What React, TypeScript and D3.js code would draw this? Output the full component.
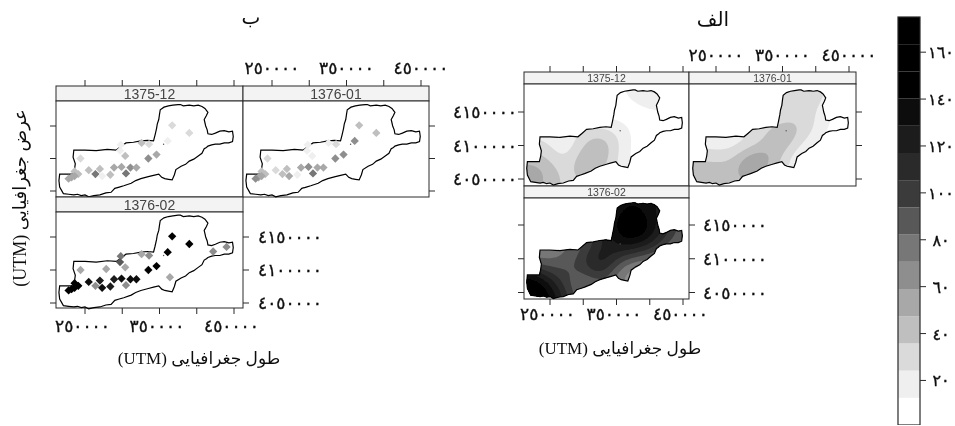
import React from "react";
import * as d3 from "d3";

// ---- data (UTM, km) ----
const boundaryX = [216,215,216,221,228,235,240,245,250,255,262,270,278,285,290,296,302,312,318,325,335,342,349,353,357,362,367,370,372,379,385,390,396,402,407,410,413,415,420,425,431,437,443,448,449,448,443,437,431,425,420,415,414,412,411,410,413,415,411,407,402,396,390,382,378,375,368,362,356,351,350,349,347,346,344,342,334,325,315,305,298,292,280,265,250,235,234,237,236,234,226];
const boundaryY = [4076,4066,4056,4046,4045,4044,4045,4043,4044,4041,4043,4044,4047,4048,4054,4056,4058,4062,4066,4069,4072,4074,4076,4071,4069,4068,4067,4075,4083,4088,4091,4096,4099,4104,4108,4115,4117,4119,4121,4122,4122,4124,4124,4126,4134,4142,4141,4143,4142,4139,4137,4138,4144,4150,4155,4160,4166,4171,4177,4180,4182,4181,4182,4181,4183,4183,4182,4181,4179,4175,4168,4160,4153,4146,4136,4127,4128,4127,4125,4124,4118,4113,4114,4112,4113,4113,4102,4092,4084,4076,4076];

const gridX = [200,225,250,275,300,325,350,375,400,425,450,475];
const gridY = [4200,4180,4160,4140,4120,4100,4080,4060,4040];
const field1: number[][] = [
  [8,8,8,8,8,8,8,16,34,26,8,8],
  [8,8,8,8,8,8,8,16,36,26,8,8],
  [8,8,8,8,8,8,8,8,10,16,6,6],
  [8,8,8,8,8,8,8,8,10,10,6,6],
  [20,20,20,20,30,34,26,8,6,6,6,6],
  [30,30,24,4,34,56,28,6,6,6,6,6],
  [42,44,38,14,62,50,22,6,6,6,6,6],
  [56,58,50,20,52,34,26,10,6,6,6,6],
  [52,50,44,28,34,30,24,10,6,6,6,6],
];
const field2: number[][] = [
  [24,24,24,24,24,24,24,26,30,20,8,6],
  [24,24,24,24,24,24,24,28,32,22,8,6],
  [24,24,24,24,24,24,26,30,28,16,4,4],
  [24,24,24,24,24,28,32,36,24,8,4,4],
  [20,20,20,18,24,36,46,44,20,8,4,4],
  [18,18,18,14,22,40,56,22,6,6,4,4],
  [32,34,34,30,78,60,30,4,8,6,4,4],
  [48,48,48,42,58,44,30,14,8,6,4,4],
  [46,46,46,42,46,40,28,12,8,6,4,4],
];
const field3: number[][] = [
  [120,120,120,120,120,125,135,140,135,125,90,70],
  [100,100,100,100,110,125,135,140,135,120,85,70],
  [90,90,90,90,100,125,140,155,140,115,85,65],
  [85,85,85,85,95,115,145,170,145,110,85,70],
  [75,75,70,75,85,110,130,135,115,90,75,65],
  [80,72,72,90,100,150,105,85,80,75,65,60],
  [125,130,100,95,90,125,70,55,55,60,60,60],
  [165,175,130,100,55,90,80,60,55,60,60,60],
  [150,165,150,110,85,80,80,60,55,60,60,60],
];

const stationX = [367,390,361,326,336,298,297,304,346,335,244,278.5,236,241,236,232,228,255,270,264,273,284,289,299,305,311,319,364,422,440];
const stationY = [4151,4139.4,4127,4124,4122,4121,4112,4104,4106,4100,4100,4101.5,4080,4076,4073,4071,4069,4082,4084,4076,4073,4075,4086,4087,4077,4086,4086,4089,4128,4135];
const station1 = [30,28,18,41,30,18,18,41,53,70,30,5,41,41,53,53,53,41,41,76,18,41,53,53,82,65,53,5,5,5];
const station2 = [41,41,65,18,30,18,18,18,65,65,30,5,41,41,53,53,65,30,41,41,53,18,53,65,76,53,53,5,5,5];
const station3 = [160,160,160,53,70,76,90,53,146,146,53,53,160,160,160,160,160,134,122,65,134,122,122,134,60,134,134,53,70,60];
const gaugeX = [355.5];
const gaugeY = [4122];

const panelNames = ["1375-12", "1376-01", "1376-02"];
const xTicks = [250, 300, 350, 400, 450];
const xTickLabels = ["٢٥٠٠٠٠", "", "٣٥٠٠٠٠", "", "٤٥٠٠٠٠"];
const yTicks = [4150, 4100, 4050];
const yTickLabels = ["٤١٥٠٠٠٠", "٤١٠٠٠٠٠", "٤٠٥٠٠٠٠"];

const levelBreaks = [1,12.6,24.2,35.8,47.4,59,70.6,82.2,93.8,105.4,117,128.6,140.2,151.8,163.4,175];
const levelGreys = ["#ffffff","#efefef","#dadada","#bfbfbf","#a8a8a8","#8e8e8e","#777777","#595959","#3a3a3a","#2a2a2a","#1c1c1c","#101010","#060606","#000000","#000000"];
const keyTicks = [20,40,60,80,100,120,140,160];
const keyLabels = ["٢٠","٤٠","٦٠","٨٠","١٠٠","١٢٠","١٤٠","١٦٠"];

const titleMaps = "الف";
const titlePoints = "ب";
const xTitle = "طول جغرافیایی (UTM)";
const yTitle = "عرض جغرافیایی (UTM)";

// ---- helpers ----
const grey = d3.scaleThreshold<number, string>().domain(levelBreaks.slice(1, -1)).range(levelGreys);
const INK = "#2a2a2a";
const SERIF = "'Liberation Serif','DejaVu Sans',serif";
const DIGITS = "'DejaVu Sans',sans-serif";
const digitStyle = { fontFamily: DIGITS, fill: "#111", stroke: "#111", strokeWidth: 0.35 };

function upsample(field: number[][], k: number) {
  const rows = field.length, cols = field[0].length;
  const w = (cols - 1) * k + 1, h = (rows - 1) * k + 1;
  const out = new Float64Array(w * h);
  for (let j = 0; j < h; j++) {
    const fy = j / k, j0 = Math.min(Math.floor(fy), rows - 2), ty = fy - j0;
    for (let i = 0; i < w; i++) {
      const fx = i / k, i0 = Math.min(Math.floor(fx), cols - 2), tx = fx - i0;
      out[j * w + i] =
        (1 - ty) * ((1 - tx) * field[j0][i0] + tx * field[j0][i0 + 1]) +
        ty * ((1 - tx) * field[j0 + 1][i0] + tx * field[j0 + 1][i0 + 1]);
    }
  }
  d3.blur2({ data: out, width: w, height: h }, k * 0.55);
  return { out, w, h };
}

function shape(x: d3.ScaleLinear<number, number>, y: d3.ScaleLinear<number, number>) {
  const pts = boundaryX.map((v, i) => [x(v), y(boundaryY[i])] as [number, number]);
  return d3.line().curve(d3.curveLinearClosed)(pts) as string;
}

function Panel({ id, l, name, field, stations, labelTop, labelBottom, labelLeft, labelRight, tickTop, tickBottom, tickLeft, tickRight, stripSize, fs, topGap, bottomGap, rightGap }: any) {
  const x = d3.scaleLinear().domain([250, 450]).range([l.x0 + l.offX, l.x0 + l.offX + l.wX]);
  const y = d3.scaleLinear().domain([4150, 4050]).range([l.y150, l.y050]);
  const outline = shape(x, y);
  const K = 10;
  let bands: React.ReactNode = null;
  if (field) {
    const { out, w, h } = upsample(field, K);
    const contours = d3.contours().size([w, h]).thresholds(levelBreaks.slice(1, -1))(Array.from(out));
    const gx = d3.scaleLinear().domain([0, w - 1]).range([gridX[0], gridX[gridX.length - 1]]);
    const gy = d3.scaleLinear().domain([0, h - 1]).range([gridY[0], gridY[gridY.length - 1]]);
    const project = d3.geoTransform({
      point(this: any, px: number, py: number) {
        this.stream.point(x(gx(px - 0.5)), y(gy(py - 0.5)));
      },
    });
    const path = d3.geoPath(project);
    bands = (
      <g clipPath={`url(#${id})`}>
        {contours.map((c, i) => (
          <path key={i} d={path(c as any) as string} fill={levelGreys[i + 1]} />
        ))}
      </g>
    );
  }
  const diamond = d3.symbol().type(d3.symbolDiamond2).size(44)() as string;
  const tick = 6;
  return (
    <g>
      <clipPath id={id}><path d={outline} /></clipPath>
      <rect x={l.x0} y={l.stripTop} width={l.x1 - l.x0} height={l.stripBottom - l.stripTop} fill="#f3f3f3" stroke={INK} strokeWidth={1} />
      <text x={(l.x0 + l.x1) / 2} y={l.stripBottom - (l.stripBottom - l.stripTop) * 0.14} textAnchor="middle" fontFamily="'Liberation Sans',sans-serif" fontSize={stripSize} fill="#444">{name}</text>
      <rect x={l.x0} y={l.stripBottom} width={l.x1 - l.x0} height={l.bottom - l.stripBottom} fill="#fff" stroke={INK} strokeWidth={1} />
      {bands}
      <path d={outline} fill="none" stroke="#000" strokeWidth={1.2} />
      {gaugeX.map((g, i) => (
        <circle key={i} cx={x(g)} cy={y(gaugeY[i])} r={0.7} fill="#555" />
      ))}
      {stations && stationX.map((sx, i) => (
        stations[i] > 12.6 ? <path key={i} d={diamond} transform={`translate(${x(sx)},${y(stationY[i])})`} fill={grey(stations[i])} /> : null
      ))}
      {xTicks.map((t) => (
        <g key={t} stroke={INK} strokeWidth={1}>
          {tickTop && <line x1={x(t)} x2={x(t)} y1={l.stripTop} y2={l.stripTop - tick} />}
          {tickBottom && <line x1={x(t)} x2={x(t)} y1={l.bottom} y2={l.bottom + tick} />}
        </g>
      ))}
      {yTicks.map((t) => (
        <g key={t} stroke={INK} strokeWidth={1}>
          {tickLeft && <line x1={l.x0} x2={l.x0 - tick} y1={y(t)} y2={y(t)} />}
          {tickRight && <line x1={l.x1} x2={l.x1 + tick} y1={y(t)} y2={y(t)} />}
        </g>
      ))}
      {labelTop && xTicks.map((t, i) => (
        <text key={t} x={x(t)} y={l.stripTop - topGap} textAnchor="middle" fontSize={fs} style={digitStyle}>{xTickLabels[i]}</text>
      ))}
      {labelBottom && xTicks.map((t, i) => (
        <text key={t} x={x(t) - 2.5} y={l.bottom + bottomGap} textAnchor="middle" fontSize={fs} style={digitStyle}>{xTickLabels[i]}</text>
      ))}
      {labelLeft && yTicks.map((t, i) => (
        <text key={t} x={l.x0 - 7} y={y(t) + 6} textAnchor="end" fontSize={fs} style={digitStyle}>{yTickLabels[i]}</text>
      ))}
      {labelRight && yTicks.map((t, i) => (
        <text key={t} x={l.x1 + rightGap} y={y(t) + 6} textAnchor="start" fontSize={fs} style={digitStyle}>{yTickLabels[i]}</text>
      ))}
    </g>
  );
}

function Key() {
  const k = d3.scaleLinear().domain([1, 175]).range([425, 17]);
  return (
    <g>
      {levelGreys.map((c, i) => (
        <rect key={i} x={898} width={22} y={k(levelBreaks[i + 1])} height={k(levelBreaks[i]) - k(levelBreaks[i + 1])} fill={c} />
      ))}
      <rect x={898} y={17} width={22} height={408} fill="none" stroke={INK} strokeWidth={1.2} />
      {keyTicks.map((t, i) => (
        <g key={t}>
          <line x1={920} x2={926} y1={k(t)} y2={k(t)} stroke={INK} strokeWidth={1} />
          <text x={941} y={k(t) + 6} textAnchor="middle" fontSize={16} style={digitStyle}>{keyLabels[i]}</text>
        </g>
      ))}
    </g>
  );
}

export default function App() {
  const rA = { stripTop: 72, stripBottom: 84, bottom: 186, y150: 112, y050: 179 };
  const rB = { stripTop: 186, stripBottom: 198, bottom: 299, y150: 225, y050: 292.5 };
  const lA = { stripTop: 86, stripBottom: 101, bottom: 197, y150: 126, y050: 191 };
  const lB = { stripTop: 197, stripBottom: 212, bottom: 308, y150: 237, y050: 303 };
  const rc1 = { x0: 524, x1: 689, offX: 26, wX: 133 };
  const rc2 = { x0: 689, x1: 856, offX: 27, wX: 133 };
  const lc1 = { x0: 56, x1: 243, offX: 29, wX: 149 };
  const lc2 = { x0: 243, x1: 429, offX: 29, wX: 149 };
  const common = { fs: 17, topGap: 11, rightGap: 14 };
  return (
    <svg width={955} height={426} style={{ position: "absolute", left: 0, top: 0, background: "#fff" }}>
      <defs>
        <filter id="soft" x="0" y="0" width="100%" height="100%">
          <feGaussianBlur stdDeviation="0.35" />
        </filter>
      </defs>
      <rect width={955} height={426} fill="#fff" />
      <g filter="url(#soft)">
        <Panel id="m1" l={{ ...rc1, ...rA }} name={panelNames[0]} field={field1} stripSize={10.5} {...common} tickTop tickLeft labelLeft />
        <Panel id="m2" l={{ ...rc2, ...rA }} name={panelNames[1]} field={field2} stripSize={10.5} {...common} tickTop tickRight labelTop />
        <Panel id="m3" l={{ ...rc1, ...rB }} name={panelNames[2]} field={field3} stripSize={10.5} {...common} bottomGap={21} tickLeft tickRight tickBottom labelRight labelBottom />
        <Panel id="p1" l={{ ...lc1, ...lA }} name={panelNames[0]} stations={station1} stripSize={14} {...common} tickTop tickLeft />
        <Panel id="p2" l={{ ...lc2, ...lA }} name={panelNames[1]} stations={station2} stripSize={14} {...common} topGap={12} tickTop tickRight labelTop />
        <Panel id="p3" l={{ ...lc1, ...lB }} name={panelNames[2]} stations={station3} stripSize={14} {...common} rightGap={15} bottomGap={24} tickLeft tickRight tickBottom labelRight labelBottom />
        <Key />
        <text x={713} y={26} textAnchor="middle" fontFamily={SERIF} fontSize={20} fill="#111">{titleMaps}</text>
        <text x={251} y={24} textAnchor="middle" fontFamily={SERIF} fontSize={20} fill="#111">{titlePoints}</text>
        <text x={620} y={354} textAnchor="middle" direction="rtl" fontFamily={SERIF} fontSize={17} fill="#111">{xTitle}</text>
        <text x={199} y={364} textAnchor="middle" direction="rtl" fontFamily={SERIF} fontSize={17} fill="#111">{xTitle}</text>
        <text transform="translate(26,198) rotate(-90)" textAnchor="middle" direction="rtl" fontFamily={SERIF} fontSize={18} fill="#111">{yTitle}</text>
      </g>
    </svg>
  );
}
